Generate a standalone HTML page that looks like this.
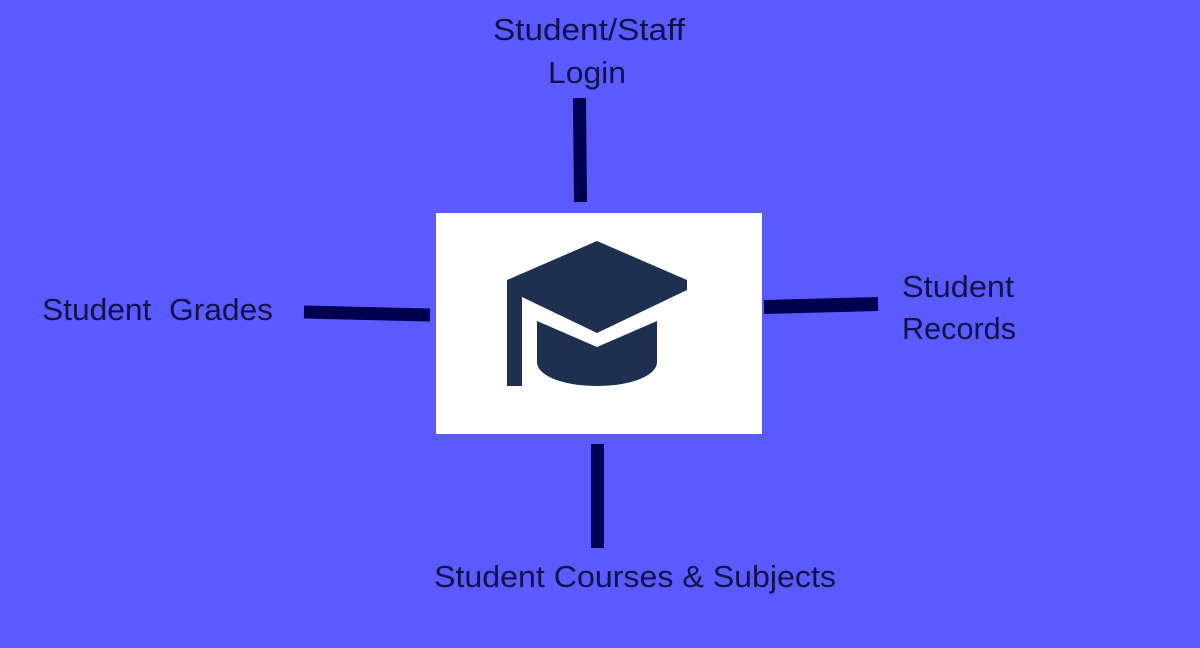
<!DOCTYPE html>
<html><head><meta charset="utf-8"><style>
html,body{margin:0;padding:0;background:#5a5aff;width:1200px;height:648px;overflow:hidden}
svg{display:block}
text{font-family:"Liberation Sans","DejaVu Sans",sans-serif;font-size:31px;fill:#12124a}
</style></head><body>
<svg width="1200" height="648" viewBox="0 0 1200 648">
<rect width="1200" height="648" fill="#5a5aff"/>
<rect x="436" y="213" width="326" height="221" fill="#fff"/>
<g fill="#1e3050">
<polygon points="597,241 687,280 687,290 597,333 522,297 522,386 507,386 507,280"/>
<path d="M537,321 L597,347 L657,321 L657,362 C657,376 630,386 597,386 C564,386 537,376 537,362 Z"/>
</g>
<g stroke="#000050" fill="none" stroke-linecap="butt">
<line x1="579.5" y1="98" x2="580.5" y2="202" stroke-width="13"/>
<line x1="304" y1="312" x2="430" y2="315" stroke-width="13"/>
<line x1="764" y1="307" x2="878" y2="304" stroke-width="14"/>
<line x1="597.5" y1="444" x2="597.5" y2="548" stroke-width="13"/>
</g>
<text x="493" y="40" textLength="192" lengthAdjust="spacingAndGlyphs">Student/Staff</text>
<text x="548" y="83" textLength="78" lengthAdjust="spacingAndGlyphs">Login</text>
<text x="42" y="320" textLength="231" lengthAdjust="spacingAndGlyphs" xml:space="preserve">Student  Grades</text>
<text x="902" y="297" textLength="112" lengthAdjust="spacingAndGlyphs">Student</text>
<text x="902" y="339" textLength="114" lengthAdjust="spacingAndGlyphs">Records</text>
<text x="434" y="587" textLength="402" lengthAdjust="spacingAndGlyphs">Student Courses &amp; Subjects</text>
</svg>
</body></html>
